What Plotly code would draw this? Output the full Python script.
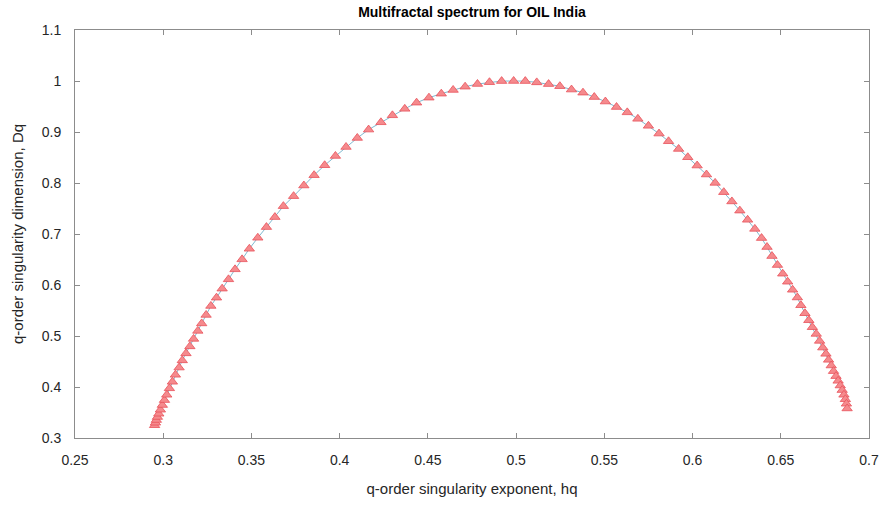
import plotly.graph_objects as go

hq = [0.2951, 0.2956, 0.2961, 0.2967, 0.2975, 0.2984, 0.2995, 0.3007, 0.3020, 0.3035,
      0.3052, 0.3069, 0.3090, 0.3108, 0.3129, 0.3151, 0.3172, 0.3196, 0.3218, 0.3243,
      0.3270, 0.3302, 0.3334, 0.3370, 0.3407, 0.3447, 0.3488, 0.3536, 0.3585, 0.3633,
      0.3681, 0.3739, 0.3797, 0.3855, 0.3915, 0.3976, 0.4036, 0.4100, 0.4164, 0.4234,
      0.4299, 0.4369, 0.4436, 0.4506, 0.4576, 0.4643, 0.4711, 0.4781, 0.4849, 0.4918,
      0.4986, 0.5052, 0.5117, 0.5184, 0.5248, 0.5314, 0.5379, 0.5443, 0.5506, 0.5569,
      0.5630, 0.5690, 0.5750, 0.5810, 0.5864, 0.5921, 0.5973, 0.6026, 0.6079, 0.6128,
      0.6177, 0.6223, 0.6268, 0.6312, 0.6353, 0.6391, 0.6422, 0.6450, 0.6481, 0.6511,
      0.6539, 0.6567, 0.6594, 0.6614, 0.6637, 0.6659, 0.6679, 0.6701, 0.6720, 0.6738,
      0.6756, 0.6771, 0.6786, 0.6799, 0.6813, 0.6825, 0.6837, 0.6848, 0.6858, 0.6866,
      0.6872, 0.6876]

Dq = [0.3250, 0.3299, 0.3352, 0.3411, 0.3475, 0.3554, 0.3646, 0.3743, 0.3847, 0.3974,
      0.4102, 0.4239, 0.4381, 0.4522, 0.4659, 0.4796, 0.4943, 0.5100, 0.5246, 0.5413,
      0.5589, 0.5751, 0.5928, 0.6111, 0.6307, 0.6503, 0.6710, 0.6926, 0.7135, 0.7331,
      0.7546, 0.7742, 0.7951, 0.8153, 0.8348, 0.8530, 0.8706, 0.8883, 0.9047, 0.9190,
      0.9327, 0.9454, 0.9575, 0.9673, 0.9751, 0.9824, 0.9888, 0.9941, 0.9976, 0.9998,
      1.0000, 0.9998, 0.9973, 0.9939, 0.9898, 0.9832, 0.9771, 0.9685, 0.9597, 0.9489,
      0.9385, 0.9258, 0.9121, 0.8969, 0.8818, 0.8667, 0.8505, 0.8342, 0.8166, 0.8002,
      0.7820, 0.7638, 0.7458, 0.7278, 0.7100, 0.6920, 0.6744, 0.6567, 0.6391, 0.6221,
      0.6064, 0.5906, 0.5755, 0.5603, 0.5446, 0.5309, 0.5172, 0.5041, 0.4904, 0.4773,
      0.4650, 0.4532, 0.4421, 0.4311, 0.4213, 0.4121, 0.4029, 0.3939, 0.3847, 0.3759,
      0.3671, 0.3579]

x_ticks = [0.25, 0.3, 0.35, 0.4, 0.45, 0.5, 0.55, 0.6, 0.65, 0.7]
x_tick_labels = ["0.25", "0.3", "0.35", "0.4", "0.45", "0.5", "0.55", "0.6", "0.65", "0.7"]
y_ticks = [0.3, 0.4, 0.5, 0.6, 0.7, 0.8, 0.9, 1.0, 1.1]
y_tick_labels = ["0.3", "0.4", "0.5", "0.6", "0.7", "0.8", "0.9", "1", "1.1"]

font_family = "Liberation Sans, Arial, Helvetica, sans-serif"

fig = go.Figure()
fig.add_trace(go.Scatter(
    x=hq, y=Dq, mode="lines+markers",
    line=dict(color="#7fb9cf", width=1),
    marker=dict(symbol="triangle-up", size=9, color="#f58a8d",
                line=dict(color="#e8525a", width=0.8)),
    showlegend=False,
))

axis_common = dict(
    showgrid=False, zeroline=False, showline=True, linecolor="#8c8c8c", linewidth=1,
    mirror="ticks", ticks="inside", ticklen=5, tickcolor="#8c8c8c", tickwidth=1,
    tickfont=dict(family=font_family, size=14, color="#262626"),
)

fig.update_layout(
    width=891, height=507,
    margin=dict(l=75, r=19, t=30, b=69),
    paper_bgcolor="white", plot_bgcolor="white",
    title=dict(text="<b>Multifractal spectrum for OIL India</b>", x=0.5, xref="paper",
               y=0.976, yref="container", yanchor="middle",
               font=dict(family=font_family, size=14, color="#000000")),
    xaxis=dict(range=[0.25, 0.7], tickvals=x_ticks, ticktext=x_tick_labels,
               ticklabelstandoff=9,
               title=dict(text="q-order singularity exponent, hq", standoff=16,
                          font=dict(family=font_family, size=15, color="#262626")),
               **axis_common),
    yaxis=dict(range=[0.3, 1.1], tickvals=y_ticks, ticktext=y_tick_labels,
               ticklabelstandoff=10,
               title=dict(text="q-order singularity dimension, Dq", standoff=14,
                          font=dict(family=font_family, size=15, color="#262626")),
               **axis_common),
)

fig.write_html("out.html", config={"displayModeBar": False},
               post_script="document.body.style.margin='0';")
